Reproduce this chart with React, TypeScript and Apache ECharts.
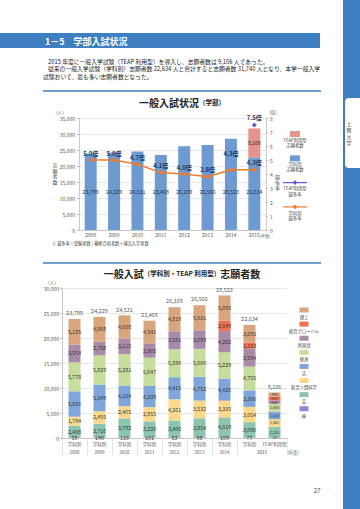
import React, { useEffect, useRef } from 'react';
import * as echarts from 'echarts';

// ---------- Chart 1 data ----------
const years = ['2008', '2009', '2010', '2011', '2012', '2013', '2014', '2015'];
const deptApplicants = [23799, 24229, 24531, 23468, 26169, 26566, 28523, 22634];
const teapApplicants = [null, null, null, null, null, null, null, 9106];
const deptRate = [5.0, 5.0, 4.7, 4.1, 4.0, 3.8, 4.3, 4.3];
const teapRate = [null, null, null, null, null, null, null, 7.5];

// ---------- Chart 2 data ----------
const categories2 = [
  '学科別\n2008', '学科別\n2009', '学科別\n2010', '学科別\n2011',
  '学科別\n2012', '学科別\n2013', '学科別\n2014', '学科別', 'TEAP利用型',
];
const shin = [59, 140, 116, 101, 83, 98, 109, 77, 33];
const bun = [2408, 2716, 3792, 3220, 3405, 3854, 4019, 3096, 2251];
const sougouNingen = [1794, 2493, 2465, 2855, 4261, 3532, 3335, 3054, 1462];
const hou = [5081, 5349, 4104, 4239, 4415, 4752, 4426, 3300, 1525];
const keizai = [5778, 5829, 6281, 5647, 5590, 5600, 5229, 4755, 1600];
const gaikokugo = [3564, 2788, 3115, 2865, 3581, 3699, 4262, 3594, 634];
const sougouGlobal = [null, null, null, null, null, null, 2049, 1153, 807];
const rikou = [5125, 4908, 4668, 4541, 4819, 5031, 5095, 3605, 794];
const totals2 = [23799, 24229, 24531, 23468, 26169, 26566, 28523, 22634, 9106];

const facultyStack = [
  { name: '神', data: shin },
  { name: '文', data: bun },
  { name: '総合人間科学', data: sougouNingen },
  { name: '法', data: hou },
  { name: '経済', data: keizai },
  { name: '外国語', data: gaikokugo },
  { name: '総合グローバル', data: sougouGlobal },
  { name: '理工', data: rikou },
];

const facultyColors: Record<string, string> = {
  神: '#9c82d6',
  文: '#8cc5ae',
  総合人間科学: '#fcd98a',
  法: '#7fa6da',
  経済: '#c6dd9c',
  外国語: '#a98ba8',
  総合グローバル: '#f2704f',
  理工: '#d9a57c',
};

const FONT = "'Noto Sans CJK JP', 'Noto Sans', sans-serif";
const BLUE = '#3d7fc1';
const C_DEPT = '#6d9bd1';
const C_TEAP = '#e6938c';
const C_RATE = '#f27b2b';
const C_TRATE = '#6a52c6';

const fmt = (v: any) => (v == null || v === '' ? '' : Number(v).toLocaleString('en-US'));

function txt(text: string, x: number, y: number, size: number, opts: any = {}) {
  return {
    type: 'text',
    x,
    y,
    silent: true,
    style: {
      text,
      fill: opts.fill || '#333',
      fontSize: size,
      fontFamily: FONT,
      fontWeight: opts.weight || 'normal',
      align: opts.align || 'left',
      textAlign: opts.align || 'left',
      verticalAlign: 'middle',
      textVerticalAlign: 'middle',
      lineHeight: opts.lineHeight,
      rich: opts.rich,
    },
  };
}

function buildGraphics(x2015: number) {
  const g: any[] = [];
  // right strip and tab
  g.push({ type: 'rect', shape: { x: 343, y: 0, width: 17, height: 509 }, style: { fill: BLUE }, silent: true });
  g.push({ type: 'rect', shape: { x: 345, y: 98, width: 15, height: 70, r: [4, 0, 0, 4] }, style: { fill: '#fff' }, silent: true });
  g.push(txt('上\n智\n大\n学', 349, 133, 5, { lineHeight: 6.5, align: 'center', fill: '#222' }));
  // header bar
  g.push({ type: 'rect', shape: { x: 0, y: 33, width: 320, height: 15 }, style: { fill: BLUE }, silent: true });
  g.push(txt('1－5　学部入試状況', 45, 41, 9, { fill: '#fff', weight: 'bold' }));
  // paragraph
  g.push(txt('2015 年度に一般入学試験（TEAP 利用型）を導入し、志願者数は 9,106 人であった。', 48, 61, 5.8, { fill: '#222' }));
  g.push(txt('従来の一般入学試験（学科別）志願者数 22,634 人と合計すると志願者数 31,740 人となり、本学一般入学', 48, 68.5, 5.8, { fill: '#222' }));
  g.push(txt('試験おいて、最も多い志願者数となった。', 43, 76, 5.8, { fill: '#222' }));
  // rules
  g.push({ type: 'line', shape: { x1: 43, y1: 91, x2: 321, y2: 91 }, style: { stroke: BLUE, lineWidth: 1.5 }, silent: true });
  g.push({ type: 'line', shape: { x1: 43, y1: 263, x2: 321, y2: 263 }, style: { stroke: BLUE, lineWidth: 1.5 }, silent: true });
  // titles
  g.push(txt('{b|一般入試状況}{s|（学部）}', 182, 102, 10, {
    align: 'center',
    rich: {
      b: { fontSize: 10, fontWeight: 'bold', fill: '#222', fontFamily: FONT },
      s: { fontSize: 6.5, fontWeight: 'bold', fill: '#222', fontFamily: FONT },
    },
  }));
  g.push(txt('{b|一般入試}{s|（学科別・TEAP 利用型）}{b|志願者数}', 182, 273, 10, {
    align: 'center',
    rich: {
      b: { fontSize: 10, fontWeight: 'bold', fill: '#222', fontFamily: FONT },
      s: { fontSize: 6.5, fontWeight: 'bold', fill: '#222', fontFamily: FONT },
    },
  }));
  // chart 1 axis captions
  g.push(txt('(人)', 60, 111.5, 4.5, { align: 'center', fill: '#555' }));
  g.push(txt('(倍)', 273, 111.5, 4.5, { align: 'center', fill: '#555' }));
  g.push(txt('志\n願\n者\n数', 55, 173, 5, { align: 'center', lineHeight: 5.5, fill: '#444' }));
  g.push(txt('競\n争\n率', 277.5, 182, 5, { align: 'center', lineHeight: 5.5, fill: '#444' }));
  g.push(txt('(年度)', 265, 235.5, 4, { align: 'center', fill: '#555' }));
  g.push(txt('※ 競争率＝受験者数 / 最終合格者数＋補欠入学者数', 52, 242.5, 4.2, { fill: '#444' }));
  // chart 1 legend
  const legend1 = [
    { lines: 'TEAP利用型\n志願者数', kind: 'bar', color: C_TEAP },
    { lines: '学科別\n志願者数', kind: 'bar', color: C_DEPT },
    { lines: 'TEAP利用型\n競争率', kind: 'diamond', color: C_TRATE },
    { lines: '学科別\n競争率', kind: 'circle', color: C_RATE },
  ];
  legend1.forEach((it, i) => {
    const cy = 134 + i * 24.3;
    if (it.kind === 'bar') {
      g.push({ type: 'rect', shape: { x: 290, y: cy - 3, width: 10, height: 6 }, style: { fill: it.color }, silent: true });
    } else {
      g.push({ type: 'line', shape: { x1: 283, y1: cy, x2: 307, y2: cy }, style: { stroke: it.color, lineWidth: 1.2 }, silent: true });
      if (it.kind === 'circle') {
        g.push({ type: 'circle', shape: { cx: 295, cy, r: 1.8 }, style: { fill: it.color }, silent: true });
      } else {
        g.push({ type: 'polygon', shape: { points: [[295, cy - 2.3], [297.3, cy], [295, cy + 2.3], [292.7, cy]] }, style: { fill: it.color }, silent: true });
      }
    }
    g.push(txt(it.lines, 295, cy + 8.5, 4.3, { align: 'center', lineHeight: 5.3, fill: '#444' }));
  });
  // chart 2 captions
  g.push(txt('(人)', 52, 282, 4.5, { align: 'center', fill: '#555' }));
  g.push(txt('2015', x2015, 452, 4.5, { align: 'center', fill: '#444' }));
  g.push(txt('(年度)', 293, 452, 4.2, { align: 'center', fill: '#555' }));
  // chart 2 legend (top to bottom = stack top to bottom)
  const legend2 = facultyStack.map((f) => f.name).reverse();
  legend2.forEach((name, i) => {
    const cy = 310 + i * 14.1;
    g.push({ type: 'rect', shape: { x: 299.5, y: cy - 2.5, width: 9, height: 5 }, style: { fill: facultyColors[name] }, silent: true });
    g.push(txt(name, 304, cy + 6.8, 4.3, { align: 'center', fill: '#444' }));
  });
  // page number
  g.push(txt('27', 317, 490, 6.5, { align: 'center', fill: '#555' }));
  return g;
}

const axisLabelStyle = { fontSize: 5, color: '#555', fontFamily: FONT };
const axisLineStyle = { lineStyle: { color: '#bdbdbd', width: 0.8 } };
const splitLineStyle = { lineStyle: { color: '#d9d9d9', width: 0.6 } };

function buildOption() {
  const series: any[] = [
    {
      name: '学科別志願者数',
      type: 'bar',
      xAxisIndex: 0,
      yAxisIndex: 0,
      stack: 'apps',
      barWidth: 12,
      data: deptApplicants,
      itemStyle: { color: C_DEPT },
      label: {
        show: true,
        position: 'insideBottom',
        distance: 35,
        fontSize: 5.3,
        color: '#2a2a3a',
        fontFamily: FONT,
        formatter: (p: any) => fmt(p.value),
      },
    },
    {
      name: 'TEAP利用型志願者数',
      type: 'bar',
      xAxisIndex: 0,
      yAxisIndex: 0,
      stack: 'apps',
      barWidth: 12,
      data: teapApplicants,
      itemStyle: { color: C_TEAP },
      label: {
        show: true,
        position: 'inside',
        fontSize: 5.3,
        color: '#2a2a3a',
        fontFamily: FONT,
        formatter: (p: any) => fmt(p.value),
      },
    },
    {
      name: '学科別競争率',
      type: 'line',
      xAxisIndex: 0,
      yAxisIndex: 1,
      data: deptRate.map((v, i) => (i === 6 ? { value: v, label: { distance: 11 } } : v)),
      itemStyle: { color: C_RATE },
      lineStyle: { color: C_RATE, width: 1.5 },
      symbol: 'circle',
      symbolSize: 4,
      z: 5,
      label: {
        show: true,
        position: 'top',
        distance: 2,
        fontSize: 6,
        fontWeight: 'bold',
        color: '#1f3a68',
        fontFamily: FONT,
        formatter: (p: any) => Number(p.value).toFixed(1) + '倍',
      },
    },
    {
      name: 'TEAP利用型競争率',
      type: 'line',
      xAxisIndex: 0,
      yAxisIndex: 1,
      data: teapRate,
      itemStyle: { color: C_TRATE },
      lineStyle: { color: C_TRATE, width: 1.5 },
      symbol: 'diamond',
      symbolSize: 5,
      z: 5,
      label: {
        show: true,
        position: 'top',
        distance: 2,
        fontSize: 6,
        fontWeight: 'bold',
        color: '#1f3a68',
        fontFamily: FONT,
        formatter: (p: any) => (p.value == null ? '' : Number(p.value).toFixed(1) + '倍'),
      },
    },
  ];

  facultyStack.forEach((f) => {
    series.push({
      name: f.name,
      type: 'bar',
      xAxisIndex: 1,
      yAxisIndex: 2,
      stack: 'fac',
      barWidth: 12,
      data: f.data.map((v, i) => (i === 8 && v != null ? { value: v, label: { fontSize: 3.8 } } : v)),
      itemStyle: { color: facultyColors[f.name] },
      label: {
        show: true,
        position: 'inside',
        fontSize: 5.3,
        color: '#333',
        fontFamily: FONT,
        formatter: (p: any) => fmt(p.value),
      },
    });
  });
  series.push({
    name: '合計',
    type: 'scatter',
    xAxisIndex: 1,
    yAxisIndex: 2,
    data: totals2,
    symbolSize: 0,
    z: 10,
    label: {
      show: true,
      position: 'top',
      distance: 3,
      fontSize: 5.5,
      color: '#222',
      fontFamily: FONT,
      formatter: (p: any) => fmt(p.value),
    },
  });

  return {
    animation: false,
    backgroundColor: '#fff',
    textStyle: { fontFamily: FONT },
    grid: [
      { left: 79, top: 118, width: 187, height: 112 },
      { left: 62, top: 288, width: 225, height: 150 },
    ],
    xAxis: [
      {
        type: 'category',
        gridIndex: 0,
        data: years,
        axisLine: axisLineStyle,
        axisTick: { show: false },
        axisLabel: { ...axisLabelStyle, margin: 2, interval: 0 },
      },
      {
        type: 'category',
        gridIndex: 1,
        data: categories2,
        axisLine: axisLineStyle,
        axisTick: {
          show: true,
          length: 17,
          lineStyle: { color: '#d0d0d0', width: 0.6 },
          interval: (i: number) => i !== 8,
        },
        axisLabel: { ...axisLabelStyle, fontSize: 4.5, lineHeight: 8, margin: 2, interval: 0 },
      },
    ],
    yAxis: [
      {
        type: 'value',
        gridIndex: 0,
        min: 0,
        max: 35000,
        interval: 5000,
        axisLine: { show: true, ...axisLineStyle },
        axisTick: { show: true, length: 2, lineStyle: { color: '#bdbdbd' } },
        axisLabel: { ...axisLabelStyle, margin: 4, formatter: (v: number) => fmt(v) },
        splitLine: splitLineStyle,
      },
      {
        type: 'value',
        gridIndex: 0,
        position: 'right',
        min: 0,
        max: 8,
        interval: 1,
        axisLine: { show: true, ...axisLineStyle },
        axisTick: { show: true, length: 2, lineStyle: { color: '#bdbdbd' } },
        axisLabel: { ...axisLabelStyle, margin: 4 },
        splitLine: { show: false },
      },
      {
        type: 'value',
        gridIndex: 1,
        min: 0,
        max: 30000,
        interval: 5000,
        axisLine: { show: true, ...axisLineStyle },
        axisTick: { show: true, length: 2, lineStyle: { color: '#bdbdbd' } },
        axisLabel: { ...axisLabelStyle, margin: 3, formatter: (v: number) => fmt(v) },
        splitLine: splitLineStyle,
      },
    ],
    series,
  };
}

export default function App() {
  const ref = useRef<HTMLDivElement>(null);
  useEffect(() => {
    document.body.style.margin = '0';
    const chart = echarts.init(ref.current!, null, { renderer: 'svg' });
    chart.setOption(buildOption() as any);
    const a = chart.convertToPixel({ xAxisIndex: 1 } as any, 7) as unknown as number;
    const b = chart.convertToPixel({ xAxisIndex: 1 } as any, 8) as unknown as number;
    const mid = Number.isFinite(a) && Number.isFinite(b) ? (a + b) / 2 : 258;
    chart.setOption({ graphic: { elements: buildGraphics(mid) } } as any);
    return () => chart.dispose();
  }, []);
  return (
    <div
      ref={ref}
      style={{ position: 'absolute', left: 0, top: 0, width: 360, height: 509, background: '#fff' }}
    />
  );
}
